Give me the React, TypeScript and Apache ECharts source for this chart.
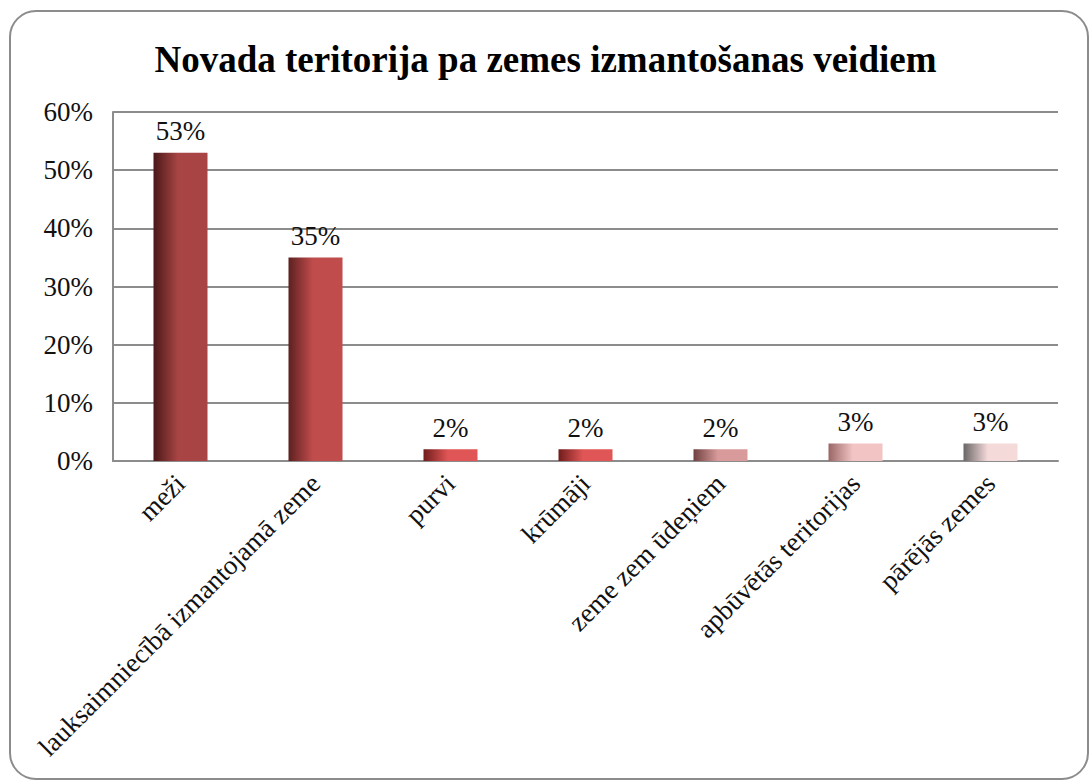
import React, { useEffect, useRef } from "react";
import * as echarts from "echarts";

const categories = [
  "meži",
  "lauksaimniecībā izmantojamā zeme",
  "purvi",
  "krūmāji",
  "zeme zem ūdeņiem",
  "apbūvētās teritorijas",
  "pārējās zemes",
];
const values = [53, 35, 2, 2, 2, 3, 3];
const barDark = ["#4a1818", "#5e2020", "#701c1c", "#701c1c", "#704040", "#9a6666", "#6a6666"];
const barLight = ["#a84444", "#c04c4c", "#e05555", "#e05555", "#d89a9a", "#f2c4c4", "#f5dada"];
const yTicks = [0, 10, 20, 30, 40, 50, 60];
const title = "Novada teritorija pa zemes izmantošanas veidiem";

const FONT = "Liberation Serif";

export default function App() {
  const ref = useRef<HTMLDivElement>(null);
  useEffect(() => {
    if (!ref.current) return;
    const chart = echarts.init(ref.current, null, { renderer: "svg" });
    chart.setOption({
      animation: false,
      backgroundColor: "#ffffff",
      title: {
        text: title,
        left: "center",
        top: 36,
        textStyle: { fontFamily: FONT, fontSize: 37, fontWeight: "bold", color: "#000" },
      },
      graphic: [
        {
          type: "rect",
          shape: { x: 10, y: 11, width: 1078, height: 768, r: 26 },
          style: { fill: "none", stroke: "#8c8c8c", lineWidth: 2 },
          z: 100,
        },
      ],
      grid: { left: 113, right: 33, top: 112, bottom: 322, containLabel: false },
      xAxis: {
        type: "category",
        data: categories,
        axisLine: { show: true, lineStyle: { color: "#8c8c8c", width: 2 } },
        axisTick: { show: false },
        axisLabel: {
          rotate: 45,
          interval: 0,
          margin: 18,
          fontFamily: FONT,
          fontSize: 27,
          color: "#111",
        },
      },
      yAxis: {
        type: "value",
        min: 0,
        max: 60,
        interval: 10,
        axisLine: { show: true, lineStyle: { color: "#8c8c8c", width: 2 } },
        axisTick: { show: false },
        splitLine: { show: true, lineStyle: { color: "#8c8c8c", width: 2 } },
        axisLabel: {
          formatter: (v: number) => (yTicks.includes(v) ? v + "%" : ""),
          fontFamily: FONT,
          fontSize: 27,
          color: "#111",
          margin: 20,
        },
      },
      series: [
        {
          type: "bar",
          barWidth: "40%",
          data: values.map((v, i) => ({
            value: v,
            itemStyle: {
              color: new echarts.graphic.LinearGradient(0, 0, 1, 0, [
                { offset: 0, color: barDark[i] },
                { offset: 0.45, color: barLight[i] },
                { offset: 1, color: barLight[i] },
              ]),
            },
          })),
          label: {
            show: true,
            position: "top",
            distance: 8,
            formatter: (p: any) => p.value + "%",
            fontFamily: FONT,
            fontSize: 27,
            color: "#111",
          },
        },
      ],
    });
    return () => chart.dispose();
  }, []);
  return (
    <div
      ref={ref}
      style={{ position: "fixed", left: 0, top: 0, width: 1091, height: 783 }}
    />
  );
}
